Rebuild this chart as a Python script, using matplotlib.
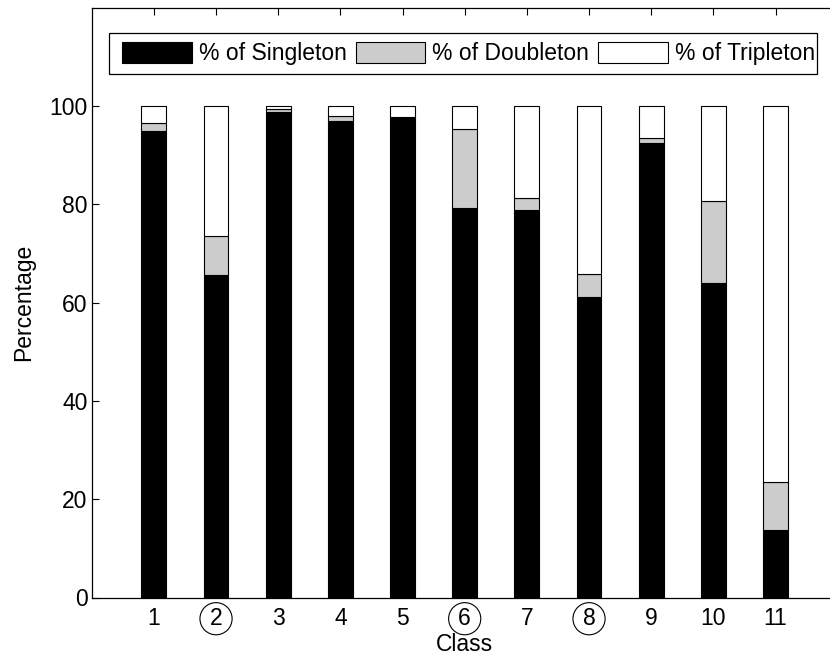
import matplotlib
matplotlib.use("Agg")
import matplotlib.pyplot as plt
from matplotlib.patches import Rectangle
import numpy as np

plt.rcParams['font.family'] = ['Liberation Sans', 'DejaVu Sans']
plt.rcParams['font.size'] = 16.5

classes = [1, 2, 3, 4, 5, 6, 7, 8, 9, 10, 11]
singleton = [94.8, 65.6, 98.8, 97.0, 97.6, 79.2, 78.9, 61.2, 92.5, 63.9, 13.7]
doubleton = [1.8, 8.0, 0.6, 0.9, 0.2, 16.0, 2.3, 4.6, 1.0, 16.8, 9.8]
tripleton = [100 - s - d for s, d in zip(singleton, doubleton)]
circled_classes = ['2', '6', '8']
series_labels = ['% of Singleton', '% of Doubleton', '% of Tripleton']

W, H = 830, 656
fig = plt.figure(figsize=(W / 100, H / 100), dpi=100)
ax = fig.add_axes([91.7 / W, (H - 597.5) / H, 746 / W, 590 / H])

x = np.array(classes)
s = np.array(singleton)
d = np.array(doubleton)
t = np.array(tripleton)
bw = 0.4
kw = dict(width=bw, edgecolor='black', linewidth=0.8)
b1 = ax.bar(x, s, color='black', label=series_labels[0], **kw)
b2 = ax.bar(x, d, bottom=s, color='#cccccc', label=series_labels[1], **kw)
b3 = ax.bar(x, t, bottom=s + d, color='white', label=series_labels[2], **kw)

ax.set_xlim(0, 12)
ax.set_ylim(0, 120)
ax.set_xticks(classes)
ax.set_yticks([0, 20, 40, 60, 80, 100])
ax.tick_params(axis='both', direction='in', length=5.3, width=0.8,
               top=True, right=True)
ax.tick_params(axis='x', pad=7)
ax.tick_params(axis='y', pad=3)
for sp in ax.spines.values():
    sp.set_linewidth(0.9)

ax.set_xlabel('Class', labelpad=2)
ax.set_ylabel('Percentage', labelpad=10)

for lbl in ax.get_xticklabels():
    if lbl.get_text() in circled_classes:
        lbl.set_bbox(dict(boxstyle='circle,pad=0.2', fc='none',
                          ec='black', lw=0.8))

# legend frame drawn separately so the inner padding can differ per side
fx0, fx1, fy0, fy1 = 109, 817, 33, 74
fig.patches.append(Rectangle((fx0 / W, (H - fy1) / H), (fx1 - fx0) / W,
                             (fy1 - fy0) / H, transform=fig.transFigure,
                             fill=True, facecolor='white', edgecolor='black',
                             linewidth=0.9, zorder=5))
lx0, lx1 = 122 / W, 815 / W
leg = fig.legend(handles=[b1, b2, b3], labels=series_labels, ncol=3,
                 loc='center left',
                 bbox_to_anchor=(lx0, (H - (fy0 + fy1) / 2) / H, lx1 - lx0, 0.0),
                 mode='expand', borderaxespad=0, frameon=False,
                 handlelength=3.05, handleheight=1.06, handletextpad=0.3,
                 borderpad=0.0, columnspacing=0.5, fontsize=16.5)
leg.set_zorder(6)

fig.savefig('out.png', dpi=100)
